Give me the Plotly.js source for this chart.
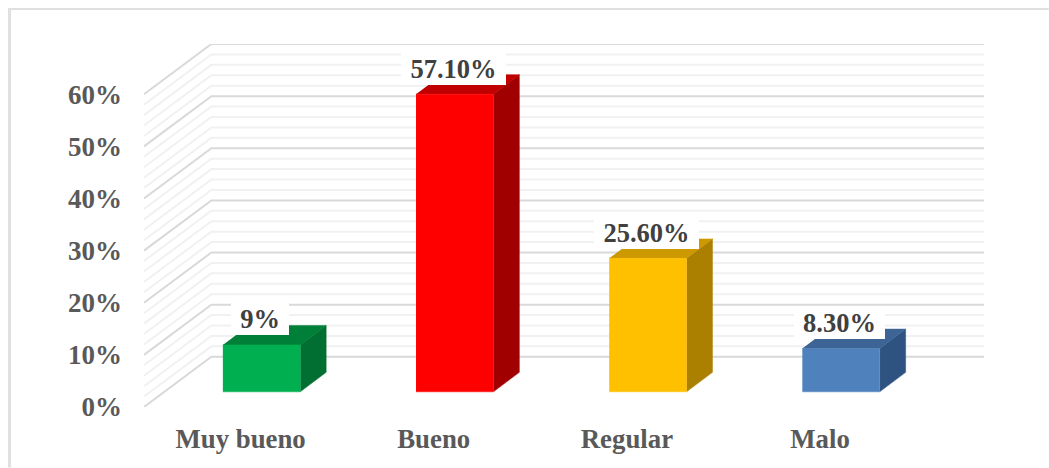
<!DOCTYPE html>
<html><head><meta charset="utf-8">
<script src="https://cdn.plot.ly/plotly-3.0.1.min.js"></script>
<style>html,body{margin:0;padding:0;background:#fff}#c{width:1049px;height:468px}</style>
</head><body><div id="c"></div>
<script>
const categories = ["Muy bueno", "Bueno", "Regular", "Malo"];
const values = [9, 57.1, 25.6, 8.3];
const labels = ["9%", "57.10%", "25.60%", "8.30%"];
const frontColors = ["#00b050", "#ff0000", "#ffc000", "#4f81bd"];
const topColors = ["#007f39", "#c00000", "#cc9900", "#3c6494"];
const sideColors = ["#006f31", "#a00000", "#ab8000", "#2f5380"];
const majorTicks = [0, 10, 20, 30, 40, 50, 60];
const minorTicks = [2, 4, 6, 8, 12, 14, 16, 18, 22, 24, 26, 28, 32, 34, 36, 38, 42, 44, 46, 48, 52, 54, 56, 58];

const W = 1049, H = 468;
const L = 144, R = 984.25, T = 44, B = 407.5;
const unitX = 193.5;                 // px per category
const xDepth = 67.5 / unitX;         // wall depth in x units
const unitY = 5.22;                  // px per 1 %
const yDepth = (B - T) / unitY - 60; // wall depth in y units
const xMin = -0.5, xMax = 3.5 + xDepth;
const barOffset = 21 / unitX, barW = 77.5 / unitX;
const barBase = 15.2 / unitY;
const barXD = 26 / unitX, barYD = 19.5 / unitY;
const labelFont = 26.5;

const measure = document.createElement("canvas").getContext("2d");
measure.font = "bold " + labelFont + "px 'Liberation Serif'";

const traces = [];
function gridLine(v, color) {
  traces.push({type: "scatter", mode: "lines", hoverinfo: "skip", showlegend: false,
    x: [xMin, xMin + xDepth, xMax], y: [v, v + yDepth, v + yDepth],
    line: {color: color, width: 2}});
}
minorTicks.forEach(v => gridLine(v, "#f1f1f1"));
majorTicks.forEach(v => gridLine(v, "#d9d9d9"));

function poly(xs, ys, c) {
  traces.push({type: "scatter", mode: "lines", fill: "toself", fillcolor: c, hoverinfo: "skip",
    showlegend: false, x: xs, y: ys, line: {color: c, width: 0.5}});
}
const annotations = [];
values.forEach((v, i) => {
  const x0 = i + barOffset - barW / 2, x1 = x0 + barW;
  const y0 = barBase, y1 = barBase + v;
  poly([x1, x1 + barXD, x1 + barXD, x1], [y0, y0 + barYD, y1 + barYD, y1], sideColors[i]);
  poly([x0, x1, x1 + barXD, x0 + barXD], [y1, y1, y1 + barYD, y1 + barYD], topColors[i]);
  poly([x0, x1, x1, x0], [y0, y0, y1, y1], frontColors[i]);
  annotations.push({x: i + barOffset - 1.5 / unitX, y: y1 + 26 / unitY, xref: "x", yref: "y",
    text: "<b>" + labels[i] + "</b>", showarrow: false, bgcolor: "#ffffff",
    borderpad: 0, borderwidth: 0, xanchor: "center", yanchor: "middle",
    width: Math.ceil(measure.measureText(labels[i]).width) + 18, height: 33,
    font: {family: "Liberation Serif", size: labelFont, color: "#404040"}});
});

const layout = {
  width: W, height: H, autosize: false, showlegend: false,
  paper_bgcolor: "#fff", plot_bgcolor: "rgba(0,0,0,0)",
  margin: {l: L, r: W - R, t: T, b: H - B, pad: 0},
  xaxis: {range: [xMin, xMax], tickmode: "array", tickvals: [0, 1, 2, 3],
    ticktext: categories.map(c => "<b>" + c + "</b>"), showgrid: false, zeroline: false,
    showline: false, ticks: "", ticklabelstandoff: 13, fixedrange: true,
    tickfont: {family: "Liberation Serif", size: 26.8, color: "#595959"}},
  yaxis: {range: [0, 60 + yDepth], tickmode: "array", tickvals: majorTicks,
    ticktext: majorTicks.map(t => "<b>" + t + "%</b>"), showgrid: false, zeroline: false,
    showline: false, ticks: "", ticklabelstandoff: 21, fixedrange: true,
    tickfont: {family: "Liberation Serif", size: 27, color: "#595959"}},
  annotations: annotations,
  shapes: [
    {type: "line", xref: "paper", yref: "paper", x0: (9.5 - L) / (R - L), x1: (9.5 - L) / (R - L),
      y0: (B - 8) / (B - T), y1: (B - 468) / (B - T), line: {color: "#e0e0e0", width: 3}},
    {type: "line", xref: "paper", yref: "paper", x0: (8 - L) / (R - L), x1: (1049 - L) / (R - L),
      y0: (B - 9) / (B - T), y1: (B - 9) / (B - T), line: {color: "#e0e0e0", width: 2}}
  ]
};
Plotly.newPlot("c", traces, layout, {displayModeBar: false, staticPlot: true});
</script></body></html>
